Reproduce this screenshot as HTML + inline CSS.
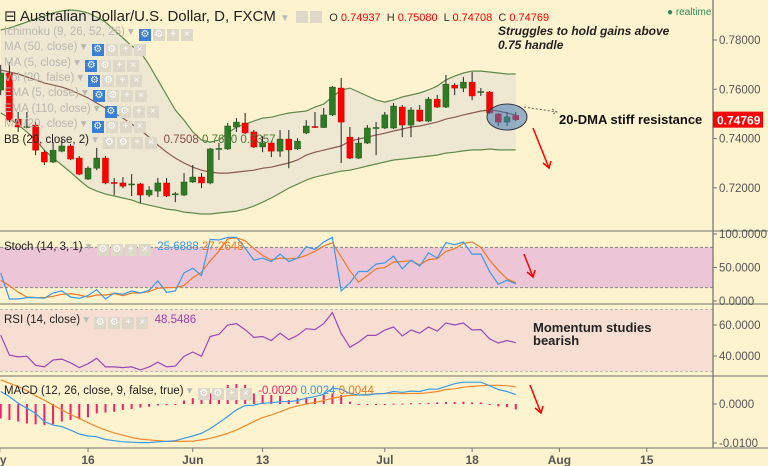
<!DOCTYPE html>
<html><head><meta charset="utf-8"><style>
body{margin:0;background:#fef3cf;}
#wrap{position:relative;width:768px;height:466px;overflow:hidden;background:#fef3cf;font-family:"Liberation Sans",sans-serif;}
svg{position:absolute;left:0;top:0;}
.lg{position:absolute;font-size:11.5px;color:#b9b7b0;white-space:nowrap;}
.ib{display:inline-block;width:12px;height:12px;background:#ddd8c8;margin-left:2px;vertical-align:-2px;color:#fff;font-size:10px;text-align:center;line-height:12px;}
.ib.b{background:#3a7fd5;}
</style></head><body>
<div id="wrap">
<svg id="chart" width="768" height="466"></svg>
<div class="lg" style="left:4px;top:7px;font-size:15px;color:#222;">⊟ Australian Dollar/U.S. Dollar, D, FXCM <span style="color:#bbb;font-size:10px">▼</span> <span class="ib"></span><span class="ib"></span> <span style="font-size:11px;color:#333">&nbsp;O <span style="color:#f00">0.74937</span> &nbsp;H <span style="color:#f00">0.75080</span> &nbsp;L <span style="color:#f00">0.74708</span> &nbsp;C <span style="color:#f00">0.74769</span></span></div>
<div class="lg" style="left:4px;top:24px">Ichimoku (9, 26, 52, 26) ▾ <span class="ib b">⚙</span><span class="ib">⚙</span><span class="ib">+</span><span class="ib">×</span></div>
<div class="lg" style="left:4px;top:39px">MA (50, close) ▾ <span class="ib b">⚙</span><span class="ib">⚙</span><span class="ib">+</span><span class="ib">×</span></div>
<div class="lg" style="left:4px;top:55px">MA (5, close) ▾ <span class="ib b">⚙</span><span class="ib">⚙</span><span class="ib">+</span><span class="ib">×</span></div>
<div class="lg" style="left:4px;top:70px">Vol (20, false) ▾ <span class="ib b">⚙</span><span class="ib">⚙</span><span class="ib">+</span><span class="ib">×</span></div>
<div class="lg" style="left:4px;top:85px">EMA (5, close) ▾ <span class="ib b">⚙</span><span class="ib">⚙</span><span class="ib">+</span><span class="ib">×</span></div>
<div class="lg" style="left:4px;top:101px">EMA (110, close) ▾ <span class="ib b">⚙</span><span class="ib">⚙</span><span class="ib">+</span><span class="ib">×</span></div>
<div class="lg" style="left:4px;top:116px">MA (20, close) ▾ <span class="ib b">⚙</span><span class="ib">⚙</span><span class="ib">+</span><span class="ib">×</span></div>
<div class="lg" style="left:4px;top:132px;color:#222">BB (20, close, 2) <span style="color:#bbb">▾</span> <span class="ib">⚙</span><span class="ib">⚙</span><span class="ib">+</span><span class="ib">×</span> &nbsp;<span style="color:#8b4a40">0.7508</span> <span style="color:#4d7a30">0.7660</span> <span style="color:#4d7a30">0.7357</span></div>
<div class="lg" style="left:4px;top:239px;color:#222">Stoch (14, 3, 1) <span style="color:#bbb">▾</span> <span class="ib">⚙</span><span class="ib">⚙</span><span class="ib">+</span><span class="ib">×</span> &nbsp;<span style="color:#3a9ae8">25.6888</span> <span style="color:#f07a20">27.2648</span></div>
<div class="lg" style="left:4px;top:312px;color:#222">RSI (14, close) <span style="color:#bbb">▾</span> <span class="ib">⚙</span><span class="ib">⚙</span><span class="ib">+</span><span class="ib">×</span> &nbsp;<span style="color:#9a40b0">48.5486</span></div>
<div class="lg" style="left:4px;top:383px;color:#222">MACD (12, 26, close, 9, false, true) <span style="color:#bbb">▾</span> <span class="ib">⚙</span><span class="ib">⚙</span><span class="ib">+</span><span class="ib">×</span> &nbsp;<span style="color:#f0206a">-0.0020</span> <span style="color:#3a9ae8">0.0024</span> <span style="color:#f07a20">0.0044</span></div>
<div class="lg" style="left:667px;top:7px;color:#2e8b57;font-size:10px">● realtime</div>
<div class="lg" style="left:498px;top:24px;color:#222;font-size:12px;font-weight:bold;font-style:italic;line-height:14px">Struggles to hold gains above<br>0.75 handle</div>
<div class="lg" style="left:559px;top:112px;color:#111;font-size:13px;font-weight:bold">20-DMA stiff resistance</div>
<div class="lg" style="left:533px;top:321px;color:#222;font-size:13px;font-weight:bold;line-height:13px">Momentum studies<br>bearish</div>
</div>
<script>
const opens=[.7597,.7666,.7479,.7445,.7455,.7345,.7305,.7349,.7370,.7321,.7236,.7280,.7321,.7222,.7220,.7213,.7216,.7171,.7187,.7220,.7173,.7171,.7224,.7244,.7220,.7356,.7358,.7447,.7463,.7427,.7366,.7382,.7349,.7398,.7358,.7423,.7449,.7445,.7496,.7605,.7406,.7321,.7382,.7441,.7443,.7443,.7528,.7455,.7516,.7471,.7560,.7528,.7617,.7605,.7629,.7587,.7589,.7500,.7467,.7494];
const highs=[.7699,.7711,.7508,.7508,.7467,.7353,.7386,.7394,.7378,.7329,.7288,.7362,.7329,.7240,.7244,.7256,.7220,.7207,.7240,.7240,.7183,.7260,.7293,.7260,.7362,.7382,.7463,.7483,.7504,.7435,.7410,.7390,.7435,.7435,.7402,.7475,.7508,.7524,.7613,.7646,.7447,.7406,.7455,.7467,.7508,.7544,.7536,.7528,.7536,.7569,.7577,.7658,.7625,.7650,.7670,.7605,.7593,.7504,.7508,.7508];
const lows=[.7577,.7467,.7427,.7443,.7333,.7293,.7301,.7345,.7313,.7252,.7232,.7272,.7215,.7171,.7199,.7167,.7138,.7163,.7163,.7163,.7142,.7167,.7220,.7199,.7215,.7313,.7354,.7427,.7418,.7362,.7345,.7325,.7325,.7280,.7354,.7418,.7443,.7443,.7492,.7301,.7317,.7317,.7378,.7333,.7439,.7439,.7406,.7406,.7467,.7467,.7524,.7524,.7577,.7589,.7556,.7573,.7500,.7451,.7451,.7471];
const closes=[.7666,.7475,.7447,.7449,.7353,.7305,.7353,.7370,.7317,.7256,.7280,.7321,.7220,.7218,.7207,.7216,.7171,.7191,.7220,.7167,.7176,.7224,.7244,.7220,.7358,.7360,.7451,.7467,.7423,.7366,.7382,.7349,.7398,.7354,.7390,.7451,.7445,.7496,.7609,.7467,.7321,.7382,.7443,.7445,.7496,.7532,.7455,.7516,.7471,.7560,.7528,.7621,.7605,.7629,.7573,.7591,.7504,.7467,.7488,.7477];
const bbUpper=[.7841,.7849,.7861,.7873,.7885,.7897,.7910,.7918,.7922,.7918,.7910,.7893,.7873,.7841,.7808,.7776,.7751,.7699,.7638,.7577,.7516,.7475,.7427,.7394,.7386,.7394,.7422,.7447,.7459,.7471,.7483,.7487,.7496,.7504,.7508,.7512,.7528,.7540,.7569,.7597,.7605,.7589,.7573,.7557,.7548,.7557,.7569,.7577,.7585,.7597,.7613,.7638,.7654,.7666,.7674,.7674,.7670,.7666,.7662,.7662];
const bbMid=[.7678,.7670,.7662,.7650,.7638,.7625,.7617,.7609,.7597,.7581,.7565,.7544,.7524,.7504,.7483,.7459,.7435,.7406,.7374,.7345,.7321,.7301,.7284,.7272,.7264,.7260,.7260,.7264,.7268,.7272,.7280,.7284,.7293,.7301,.7313,.7333,.7345,.7353,.7362,.7370,.7390,.7398,.7406,.7414,.7422,.7431,.7439,.7447,.7451,.7459,.7467,.7479,.7487,.7496,.7504,.7512,.7516,.7512,.7504,.7496];
const bbLower=[.7504,.7483,.7455,.7427,.7394,.7353,.7321,.7293,.7264,.7232,.7203,.7187,.7175,.7167,.7159,.7151,.7138,.7130,.7122,.7114,.7110,.7102,.7098,.7094,.7094,.7098,.7102,.7106,.7114,.7126,.7142,.7159,.7179,.7199,.7215,.7232,.7244,.7252,.7260,.7268,.7272,.7280,.7289,.7297,.7305,.7313,.7317,.7321,.7325,.7329,.7333,.7341,.7345,.7350,.7354,.7354,.7358,.7354,.7354,.7354];
const stochK=[42,3,3,5,5,4,12,15,6,4,8,17,3,12,10,15,12,16,30,13,15,42,49,38,92,91,95,95,79,61,64,59,70,59,64,81,77,88,95,15,27,44,44,55,57,67,48,61,52,72,64,87,84,88,70,70,44,25,31,25.69];
const stochD=[31,23,13,6,5,5,7,10,11,9,6,9,9,11,8,12,12,14,19,20,20,23,35,43,60,74,93,94,90,78,68,61,64,63,64,68,74,82,87,66,45,28,38,48,50,58,59,60,54,62,63,74,78,86,88,80,61,46,33,27.26];
const rsiVals=[53.5,40.6,39.4,39.9,34,33,37.4,38,35.6,32.5,35,38.5,33,33,32.5,33,31,33,36,33,33.5,39.8,42.6,39.8,52.6,54,60,60.9,57,52,52.6,50,54.8,50.5,53.3,57.6,57,60.9,68,54.5,45.7,49,53.3,53.3,56.8,58.7,52.9,56.8,54.8,58.7,56,61.3,60,61.3,56.8,57,51,48.4,50,48.55];
const macdLine=[.0032,.0019,.0002,-.0011,-.0024,-.0045,-.0054,-.0058,-.0067,-.0077,-.0082,-.0084,-.0091,-.0094,-.0097,-.0098,-.0099,-.0099,-.0097,-.0096,-.0094,-.0088,-.0082,-.0075,-.0063,-.0048,-.0032,-.0015,-.0004,-.0003,.0002,.0003,.0006,.0006,.0009,.0015,.0019,.0025,.0040,.0038,.0027,.0023,.0023,.0026,.0027,.0032,.0030,.0033,.0032,.0038,.0038,.0045,.0052,.0056,.0056,.0056,.0047,.0037,.0032,.0024];
const macdSignal=[.0062,.0053,.0045,.0034,.0021,.0010,-.0003,-.0015,-.0027,-.0037,-.0048,-.0058,-.0067,-.0074,-.0080,-.0086,-.0090,-.0092,-.0094,-.0096,-.0096,-.0096,-.0095,-.0092,-.0088,-.0082,-.0075,-.0067,-.0056,-.0045,-.0035,-.0028,-.0020,-.0011,-.0005,0,.0004,.0009,.0015,.0019,.0022,.0023,.0025,.0026,.0027,.0027,.0027,.0027,.0027,.0029,.0032,.0037,.0039,.0043,.0045,.0047,.0048,.0048,.0047,.0044];
const macdHist=[-.0037,-.0041,-.0045,-.0050,-.0052,-.0054,-.0052,-.0045,-.0041,-.0039,-.0034,-.0024,-.0022,-.0020,-.0015,-.0013,-.0009,-.0007,-.0004,-.0003,-.0001,.0009,.0015,.0016,.0027,.0036,.0049,.0051,.0049,.0027,.0023,.0023,.0021,.0010,.0015,.0015,.0015,.0023,.0027,.0023,.0006,0,-.0002,-.0002,0,.0001,.0001,.0002,.0002,.0003,.0004,.0005,.0005,.0006,.0004,.0004,0,-.0006,-.0008,-.0014];
const priceTicks=[0.78,0.76,0.74,0.72];
const priceTickLabels=["0.78000","0.76000","0.74000","0.72000"];
const stochTicks=[100,50,0];
const stochTickLabels=["100.0000","50.0000","0.0000"];
const rsiTicks=[60,40];
const rsiTickLabels=["60.0000","40.0000"];
const macdTicks=[0,-0.01];
const macdTickLabels=["0.0000","-0.0100"];
const dateTickIdx=[-0.1,10,22,30,44,54,64,74];
const dateTickLabels=["ay","16","Jun","13","Jul","18","Aug","15"];

const NS="http://www.w3.org/2000/svg";
const svg=document.getElementById('chart');
function el(tag,attrs,parent){const e=document.createElementNS(NS,tag);for(const k in attrs)e.setAttribute(k,attrs[k]);(parent||svg).appendChild(e);return e;}
const X=i=>0.7+i*8.73;
const Yp=p=>40+(0.78-p)*2465;
const Ys=v=>301-v*0.67;
const Yr=v=>325+(60-v)*1.55;
const Ym=v=>404-v*3900;
const AX=713;
function line(vals,yf,color,name){let d='';vals.forEach((v,i)=>{d+=(i?'L':'M')+X(i).toFixed(1)+','+yf(v).toFixed(1);});const p=el('path',{d:d,fill:'none',stroke:color,'stroke-width':1.2});return p;}

let bg=el('rect',{x:0,y:Ys(80),width:AX,height:Ys(20)-Ys(80),fill:'#ecc6d6'});

[80,20].forEach(v=>{const l=el('line',{x1:0,x2:AX,y1:Ys(v),y2:Ys(v),stroke:'#888','stroke-dasharray':'3,2'});});
bg=el('rect',{x:0,y:Yr(70),width:AX,height:Yr(30)-Yr(70),fill:'#f6dfd2'});

[70,30].forEach(v=>{const l=el('line',{x1:0,x2:AX,y1:Yr(v),y2:Yr(v),stroke:'#bbb','stroke-dasharray':'3,2'});});

let d='';bbUpper.forEach((v,i)=>{d+=(i?'L':'M')+X(i)+','+Yp(v);});
for(let i=bbLower.length-1;i>=0;i--)d+='L'+X(i)+','+Yp(bbLower[i]);
const bf=el('path',{d:d+'Z',fill:'#eee8d2'});

line(bbUpper,Yp,'#5f8a4a','bb-upper-line');
line(bbLower,Yp,'#5f8a4a','bb-lower-line');
line(bbMid,Yp,'#8b5a50','bb-middle-line');

closes.forEach((c,i)=>{const o=opens[i],up=c>=o,col=up?'#2f7a25':'#f00',x=X(i);
 const w=el('line',{x1:x,x2:x,y1:Yp(highs[i]),y2:Yp(lows[i]),stroke:'#222','stroke-width':1});
 
 const t=Yp(Math.max(o,c)),b=Yp(Math.min(o,c));
 const r=el('rect',{x:x-3,y:t,width:6,height:Math.max(1,b-t),fill:col,stroke:up?'#1f5a18':'#c00','stroke-width':0.5});
 
});

line(stochD,Ys,'#f07a20','stoch-d-line');
line(stochK,Ys,'#3a9ae8','stoch-k-line');
line(rsiVals,Yr,'#9a48b8','rsi-line');
macdHist.forEach((v,i)=>{const y0=Ym(0),y1=Ym(v);const r=el('rect',{x:X(i)-1,y:Math.min(y0,y1),width:2,height:Math.max(1,Math.abs(y1-y0)),fill:'#f0206a'});});
line(macdSignal,Ym,'#f5892a','macd-signal-line');
line(macdLine,Ym,'#3a9ae8','macd-line');

[231,304,376,448].forEach(y=>{const l=el('line',{x1:0,x2:768,y1:y,y2:y,stroke:'#8a8a80','stroke-width':1.3});});
const ax=el('line',{x1:AX,x2:AX,y1:0,y2:448,stroke:'#777','stroke-width':1.3});

function ticks(vals,labels,yf,name){vals.forEach((v,i)=>{const y=yf(v);el('line',{x1:AX,x2:AX+4,y1:y,y2:y,stroke:'#777'});const t=el('text',{x:AX+6,y:y+4,'font-size':11.5,fill:'#555','font-family':'Liberation Sans, sans-serif'});t.textContent=labels[i];});}
ticks(priceTicks,priceTickLabels,Yp,'price-tick-label');
ticks(stochTicks,stochTickLabels,Ys,'stoch-tick-label');
ticks(rsiTicks,rsiTickLabels,Yr,'rsi-tick-label');
ticks(macdTicks,macdTickLabels,Ym,'macd-tick-label');
dateTickIdx.forEach((v,i)=>{const x=X(v);el('line',{x1:x,x2:x,y1:448,y2:452,stroke:'#777'});const t=el('text',{x:x,y:464,'font-size':12,'font-weight':'bold',fill:'#555','text-anchor':'middle','font-family':'Liberation Sans, sans-serif'});t.textContent=dateTickLabels[i];});

const tag=el('rect',{x:AX,y:Yp(0.74769)-8,width:50,height:16,fill:'#f00'});

const tt=el('text',{x:AX+4,y:Yp(0.74769)+5,'font-size':12,'font-weight':'bold',fill:'#fff','font-family':'Liberation Sans, sans-serif'});tt.textContent='0.74769';


const ell=el('ellipse',{cx:507,cy:117,rx:20,ry:13,fill:'rgba(70,120,180,0.55)',stroke:'#334','stroke-width':1});

const da=el('path',{d:'M524,107 L557,112 M552,109 L557,112 L552,114',stroke:'#666',fill:'none','stroke-dasharray':'2,2'});

[[533,128,549,168],[524,254,533,277],[530,385,541,413]].forEach(a=>{const g=el('path',{d:`M${a[0]},${a[1]} L${a[2]},${a[3]} M${a[2]-6},${a[3]-5} L${a[2]},${a[3]} L${a[2]+2},${a[3]-7}`,stroke:'#f00','stroke-width':1.5,fill:'none'});});
</script>
</body></html>
